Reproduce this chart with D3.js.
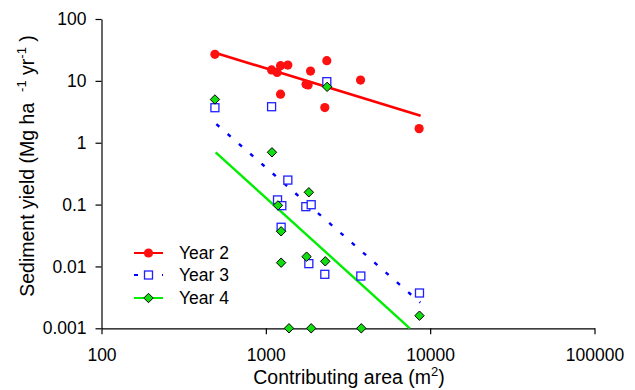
<!DOCTYPE html>
<html>
<head>
<meta charset="utf-8">
<script src="https://cdn.jsdelivr.net/npm/d3@7"></script>
<style>
  body { margin: 0; background: #fff; }
  svg { font-family: "Liberation Sans", Arial, sans-serif; }
  .tick text { font-size: 17.5px; fill: #000; }
</style>
</head>
<body>
<svg id="chart" width="635" height="390"></svg>
<script>
// axis ticks
const xTicks = [100, 1000, 10000, 100000];
const yTicks = [0.001, 0.01, 0.1, 1, 10, 100];
const yTickLabels = ["0.001", "0.01", "0.1", "1", "10", "100"];

// series: contributing area (m2) and sediment yield
const seriesNames = ["Year 2", "Year 3", "Year 4"];

const year2Area = [490, 1084, 1171, 1229, 1361, 1229, 1871, 1757, 1808, 2350, 2285, 3770, 8570];
const year2Yield = [26.9, 15.0, 13.7, 17.6, 18.0, 6.1, 14.4, 8.8, 8.6, 21.2, 3.7, 10.3, 1.69];

const year3Area = [490, 1084, 2350, 1361, 1178, 1251, 1751, 1888, 1239, 1827, 2285, 3785, 8610];
const year3Yield = [3.68, 3.82, 9.7, 0.249, 0.119, 0.096, 0.0925, 0.0995, 0.043, 0.0111, 0.00746, 0.0070, 0.00372];

const year4Area = [490, 1090, 2360, 1827, 1185, 1239, 1239, 1770, 2300, 1383, 1888, 3810, 8610];
const year4Yield = [5.0, 0.70, 8.0, 0.158, 0.097, 0.037, 0.0115, 0.0144, 0.0121, 0.001, 0.001, 0.001, 0.0016];

// fitted trend lines (end points)
const trend2Area = [490, 8750];
const trend2Yield = [28.5, 2.73];
const trend3Area = [500, 8700];
const trend3Yield = [2.0, 0.0026];
const trend4Area = [495, 7520];
const trend4Yield = [0.70, 0.001];

const svg = d3.select('#chart');

const x = d3.scaleLog().domain([100, 100000]).range([101.5, 594.5]);
const y = d3.scaleLog().domain([0.001, 100]).range([328.3, 19]);

// axes
svg.append('g')
  .attr('transform', `translate(0,${y(0.001)})`)
  .call(d3.axisBottom(x).tickValues(xTicks).tickSize(6).tickSizeOuter(0).tickPadding(14)
    .tickFormat(d3.format('d')));

svg.append('g')
  .attr('transform', `translate(${x(100)},0)`)
  .call(d3.axisLeft(y).tickValues(yTicks).tickSize(6).tickSizeOuter(0).tickPadding(9)
    .tickFormat((d, i) => yTickLabels[i]));

svg.selectAll('.domain, .tick line').attr('stroke', '#000').attr('stroke-width', 1.2);

// axis titles
const xt = svg.append('text')
  .attr('x', 349).attr('y', 384)
  .attr('text-anchor', 'middle')
  .attr('font-size', 19.5);
xt.append('tspan').text('Contributing area (m');
xt.append('tspan').attr('dy', -8).attr('font-size', 13).text('2');
xt.append('tspan').attr('dy', 8).text(')');

const yt = svg.append('text')
  .attr('transform', 'translate(34,166) rotate(-90)')
  .attr('text-anchor', 'middle')
  .attr('font-size', 19.5)
  .style('white-space', 'pre');
yt.append('tspan').text('Sediment yield (Mg ha  ');
yt.append('tspan').attr('dy', -8).attr('font-size', 13).text('-1');
yt.append('tspan').attr('dy', 8).text(' yr');
yt.append('tspan').attr('dy', -8).attr('font-size', 13).text('-1');
yt.append('tspan').attr('dy', 8).text(' )');

// trend lines
const line = d3.line().x(d => x(d[0])).y(d => y(d[1]));
const trends = [
  { a: trend2Area, v: trend2Yield, color: '#ff0000', dash: null, w: 2.6 },
  { a: trend3Area, v: trend3Yield, color: '#0000ff', dash: '4,11', w: 2.4 },
  { a: trend4Area, v: trend4Yield, color: '#00ee00', dash: null, w: 2.4 }
];
trends.forEach(t => {
  svg.append('path')
    .datum(d3.zip(t.a, t.v))
    .attr('d', line)
    .attr('fill', 'none')
    .attr('stroke', t.color)
    .attr('stroke-width', t.w)
    .attr('stroke-dasharray', t.dash);
});

// markers
const circle = (g) => g.append('circle').attr('r', 4.6).attr('fill', '#ff1010');
const square = (g) => g.append('rect').attr('x', -4).attr('y', -4).attr('width', 8).attr('height', 8)
  .attr('fill', '#fff').attr('stroke', '#2020ff').attr('stroke-width', 1.3);
const diamond = (g) => g.append('path').attr('d', 'M0,-4.7L4.7,0L0,4.7L-4.7,0Z')
  .attr('fill', '#11dd11').attr('stroke', '#000').attr('stroke-width', 1);

const series = [
  { a: year2Area, v: year2Yield, mark: circle },
  { a: year3Area, v: year3Yield, mark: square },
  { a: year4Area, v: year4Yield, mark: diamond }
];
series.forEach(s => {
  svg.append('g').selectAll('g')
    .data(d3.zip(s.a, s.v))
    .enter()
    .append('g')
    .attr('transform', d => `translate(${x(d[0])},${y(d[1])})`)
    .each(function () { s.mark(d3.select(this)); });
});

// legend
const legendY = [253, 275, 298];
seriesNames.forEach((name, i) => {
  const g = svg.append('g').attr('transform', `translate(134,${legendY[i]})`);
  g.append('line').attr('x1', 0).attr('x2', 29)
    .attr('stroke', trends[i].color).attr('stroke-width', 2)
    .attr('stroke-dasharray', i === 1 ? '4,10' : null);
  series[i].mark(g.append('g').attr('transform', 'translate(14.5,0)'));
  g.append('text').attr('x', 45).attr('dy', '0.35em')
    .attr('font-size', 17.5).text(name);
});
</script>
</body>
</html>
